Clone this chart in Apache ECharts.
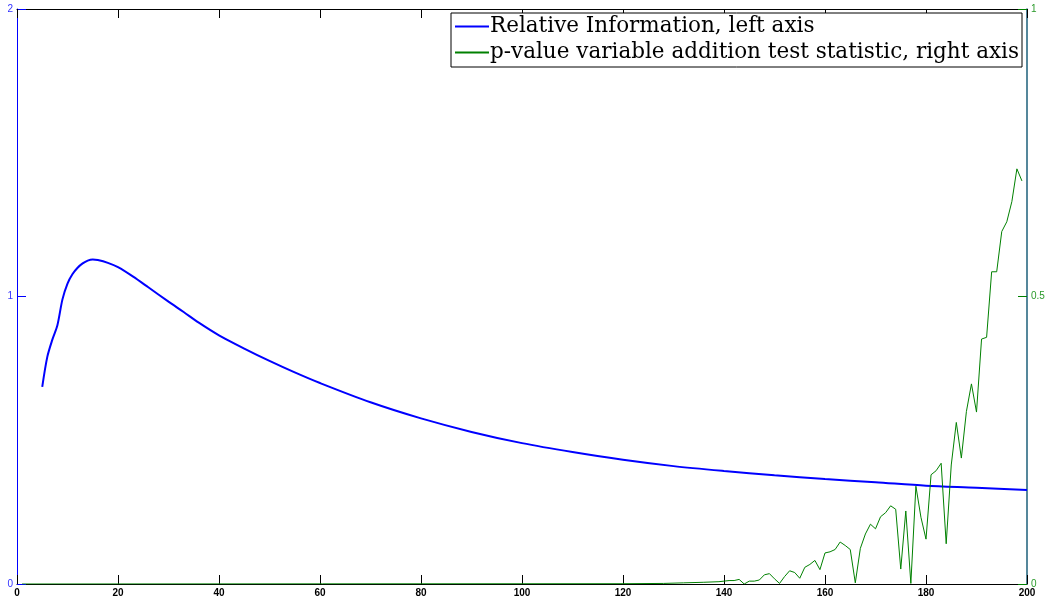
<!DOCTYPE html>
<html>
<head>
<meta charset="utf-8">
<script src="https://cdn.jsdelivr.net/npm/echarts@6/dist/echarts.min.js"></script>
<style>
html,body{margin:0;padding:0;background:#fff;}
#chart{width:1046px;height:601px;}
</style>
</head>
<body>
<div id="chart"></div>
<script>
// ---- data ----
const seriesNames = ["Relative Information, left axis", "p-value variable addition test statistic, right axis"];
const xTicks = [0, 20, 40, 60, 80, 100, 120, 140, 160, 180, 200];
const leftTicks = [0, 1, 2];
const rightTicks = [0, 0.5, 1];

const blueX = [5, 6, 7, 8, 9, 10, 11, 12, 13, 14, 15, 16, 18, 20, 23, 26, 30, 33, 36, 40, 45, 50, 55, 60, 70, 80, 90, 100, 110, 120, 130, 140, 150, 160, 170, 180, 190, 200];
const blueY = [0.686, 0.79, 0.85, 0.90, 0.99, 1.045, 1.078, 1.10, 1.115, 1.125, 1.129, 1.127, 1.117, 1.102, 1.069, 1.032, 0.982, 0.946, 0.909, 0.865, 0.819, 0.776, 0.736, 0.699, 0.632, 0.576, 0.529, 0.490, 0.459, 0.432, 0.410, 0.393, 0.378, 0.365, 0.354, 0.342, 0.335, 0.327];

const greenX = [1, 120, 128, 132, 136, 139, 140, 141, 142, 143, 144, 145, 146, 147, 148, 149, 150, 151, 152, 153, 154, 155, 156, 157, 158, 159, 160, 161, 162, 163, 164, 165, 166, 167, 168, 169, 170, 171, 172, 173, 174, 175, 176, 177, 178, 179, 180, 181, 182, 183, 184, 185, 186, 187, 188, 189, 190, 191, 192, 193, 194, 195, 196, 197, 198, 199];
const greenY = [0, 0.0005, 0.001, 0.002, 0.003, 0.004, 0.005, 0.006, 0.006, 0.008, 0.000, 0.005, 0.005, 0.007, 0.016, 0.018, 0.009, 0.001, 0.013, 0.023, 0.020, 0.010, 0.029, 0.034, 0.041, 0.025, 0.054, 0.056, 0.060, 0.073, 0.067, 0.060, 0.002, 0.062, 0.087, 0.104, 0.096, 0.117, 0.124, 0.136, 0.130, 0.026, 0.127, 0.001, 0.170, 0.116, 0.078, 0.190, 0.197, 0.210, 0.070, 0.207, 0.281, 0.219, 0.300, 0.348, 0.299, 0.426, 0.429, 0.543, 0.543, 0.613, 0.630, 0.665, 0.722, 0.701];

// ---- chart ----
const blueData = blueX.map((x, i) => [x, blueY[i]]);
const greenData = greenX.map((x, i) => [x, greenY[i]]);
const tickFont = {fontFamily: 'Liberation Sans, Arial, sans-serif', fontSize: 10, fontWeight: 'bold'};

const chart = echarts.init(document.getElementById('chart'), null, {renderer: 'canvas'});
chart.setOption({
  animation: false,
  backgroundColor: '#fff',
  grid: {left: 17, right: 19, top: 9, bottom: 17, containLabel: false, outerBoundsMode: 'none'},
  legend: {
    data: seriesNames,
    orient: 'vertical',
    right: 24, top: 13,
    backgroundColor: '#fff',
    borderColor: '#000', borderWidth: 1,
    padding: [1, 3, 2, 4],
    itemGap: 1,
    itemWidth: 34, itemHeight: 2,
    icon: 'rect',
    textStyle: {fontFamily: 'DejaVu Serif, serif', fontSize: 21.5, color: '#000', lineHeight: 25, padding: [0,0,0,-4]}
  },
  xAxis: [{
    type: 'value', min: xTicks[0], max: xTicks[xTicks.length - 1], interval: xTicks[1] - xTicks[0],
    position: 'bottom',
    axisLine: {onZero: false, lineStyle: {color: '#000', width: 1}},
    axisTick: {inside: true, length: 9, lineStyle: {color: '#000'}},
    axisLabel: Object.assign({color: '#000', margin: 4}, tickFont),
    splitLine: {show: false}
  }, {
    type: 'value', min: xTicks[0], max: xTicks[xTicks.length - 1], interval: xTicks[1] - xTicks[0],
    position: 'top',
    axisLine: {onZero: false, lineStyle: {color: '#000', width: 1}},
    axisTick: {inside: true, length: 9, lineStyle: {color: '#000'}},
    axisLabel: {show: false},
    splitLine: {show: false}
  }],
  yAxis: [{
    type: 'value', min: leftTicks[0], max: leftTicks[leftTicks.length - 1], interval: leftTicks[1] - leftTicks[0],
    position: 'left',
    axisLine: {show: true, onZero: false, lineStyle: {color: '#0000ff', width: 1}},
    axisTick: {show: true, inside: true, length: 9, lineStyle: {color: '#0000ff'}},
    axisLabel: Object.assign({color: '#3333ff', margin: 4}, tickFont, {fontWeight: 'normal'}),
    splitLine: {show: false}
  }, {
    type: 'value', min: rightTicks[0], max: rightTicks[rightTicks.length - 1], interval: rightTicks[1] - rightTicks[0],
    position: 'right',
    axisLine: {show: true, onZero: false, lineStyle: {color: '#1d5f7a', width: 1.5}},
    axisTick: {show: true, inside: true, length: 9, lineStyle: {color: '#008000'}},
    axisLabel: Object.assign({color: '#2a9a2a', margin: 4}, tickFont, {fontWeight: 'normal'}),
    splitLine: {show: false}
  }],
  series: [{
    name: seriesNames[0], type: 'line', xAxisIndex: 0, yAxisIndex: 0,
    data: blueData, showSymbol: false, symbol: 'none', smooth: 0.3,
    color: '#0000ff',
    lineStyle: {color: '#0000ff', width: 2}, z: 3
  }, {
    name: seriesNames[1], type: 'line', xAxisIndex: 0, yAxisIndex: 1,
    data: greenData, showSymbol: false, symbol: 'none',
    color: '#008000',
    lineStyle: {color: '#008000', width: 1}, z: 4
  }]
});
</script>
</body>
</html>
